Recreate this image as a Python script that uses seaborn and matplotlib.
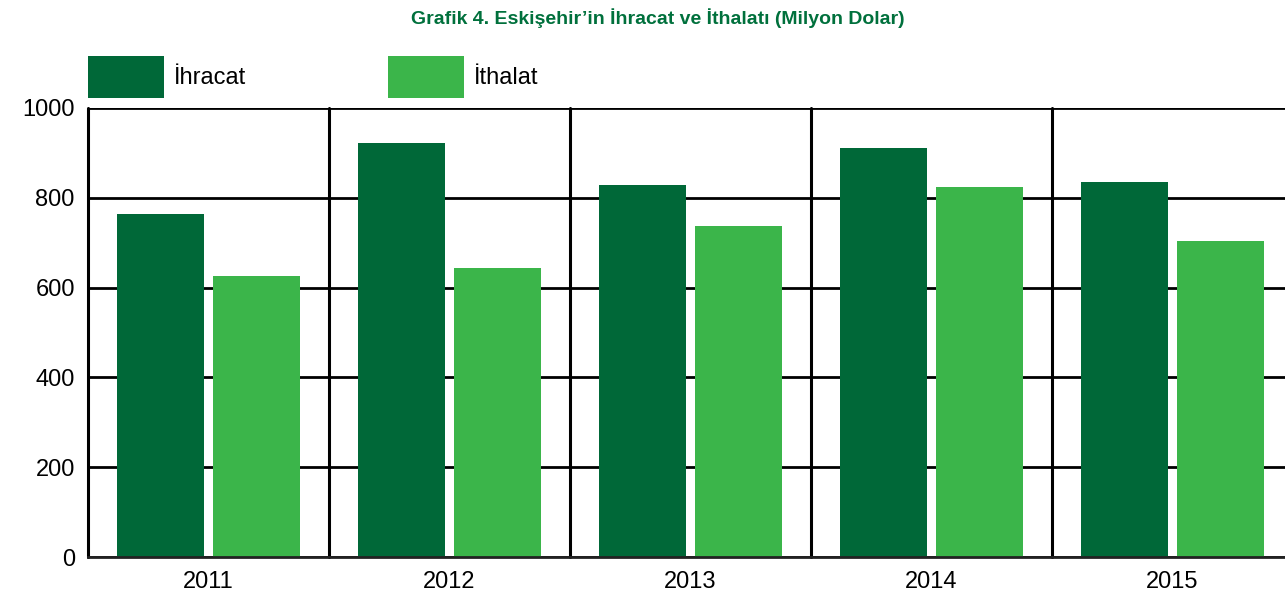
import matplotlib
matplotlib.use("Agg")
import matplotlib.pyplot as plt
from matplotlib import font_manager
from matplotlib.patches import Patch
import seaborn as sns
import pandas as pd

years = ["2011", "2012", "2013", "2014", "2015"]
ihracat = [764, 922, 828, 911, 835]
ithalat = [626, 644, 737, 824, 704]
series_names = ["İhracat", "İthalat"]
y_ticks = [0, 200, 400, 600, 800, 1000]

df = pd.DataFrame({
    "Yıl": years * 2,
    "Değer": ihracat + ithalat,
    "Seri": [series_names[0]] * len(years) + [series_names[1]] * len(years),
})

sns.set_theme(style="white")
plt.rcParams["font.family"] = ["Liberation Sans", "DejaVu Sans"]
plt.rcParams["text.color"] = "black"

installed = {f.name for f in font_manager.fontManager.ttflist}
title_family = "Liberation Sans Narrow" if "Liberation Sans Narrow" in installed else "Liberation Sans"

W, H = 1285, 596
fig = plt.figure(figsize=(W / 100, H / 100), dpi=100)
ax = fig.add_axes([88 / W, 39 / H, 1197 / W, 449 / H])

palette = {"İhracat": "#006838", "İthalat": "#3BB54A"}
sns.barplot(data=df, x="Yıl", y="Değer", hue="Seri", palette=palette,
            width=0.8, gap=0.0975, saturation=1, ax=ax, zorder=3, legend=False,
            linewidth=0, edgecolor="none")

ax.set_ylim(0, 1000)
ax.set_xlim(-0.5, -0.5 + 1197 / 241)
ax.set_yticks(y_ticks)
ax.set_axisbelow(True)
ax.yaxis.grid(True, color="black", linewidth=2, zorder=0)
for b in range(len(years)):
    ax.axvline(b - 0.5, color="black", linewidth=2.2, zorder=1, clip_on=False)

for s in ["top", "right", "left"]:
    ax.spines[s].set_visible(False)
ax.spines["bottom"].set_color("#222222")
ax.spines["bottom"].set_linewidth(2)
ax.spines["bottom"].set_zorder(4)

ax.set_xlabel("")
ax.set_ylabel("")
ax.tick_params(axis="both", length=0, labelsize=17, colors="black")
ax.tick_params(axis="y", pad=9.5)
ax.tick_params(axis="x", pad=10)

handles = [Patch(facecolor=palette[n], edgecolor="none") for n in series_names]
fig.legend(handles, series_names, loc="upper left",
           bbox_to_anchor=(88 / W, 1 - 56 / H), ncol=2, frameon=False,
           fontsize=17, handlelength=3.22, handleheight=2.34,
           handletextpad=0.42, columnspacing=6.0, borderpad=0, borderaxespad=0,
           labelcolor="black")

title_size = 17 if title_family == "Liberation Sans Narrow" else 14
fig.text(658 / W, 1 - 18 / H, "Grafik 4. Eskişehir’in İhracat ve İthalatı (Milyon Dolar)",
         ha="center", va="center", fontsize=title_size, fontweight="bold",
         color="#00703C", family=[title_family, "DejaVu Sans"])

fig.savefig("out.png", dpi=100)
